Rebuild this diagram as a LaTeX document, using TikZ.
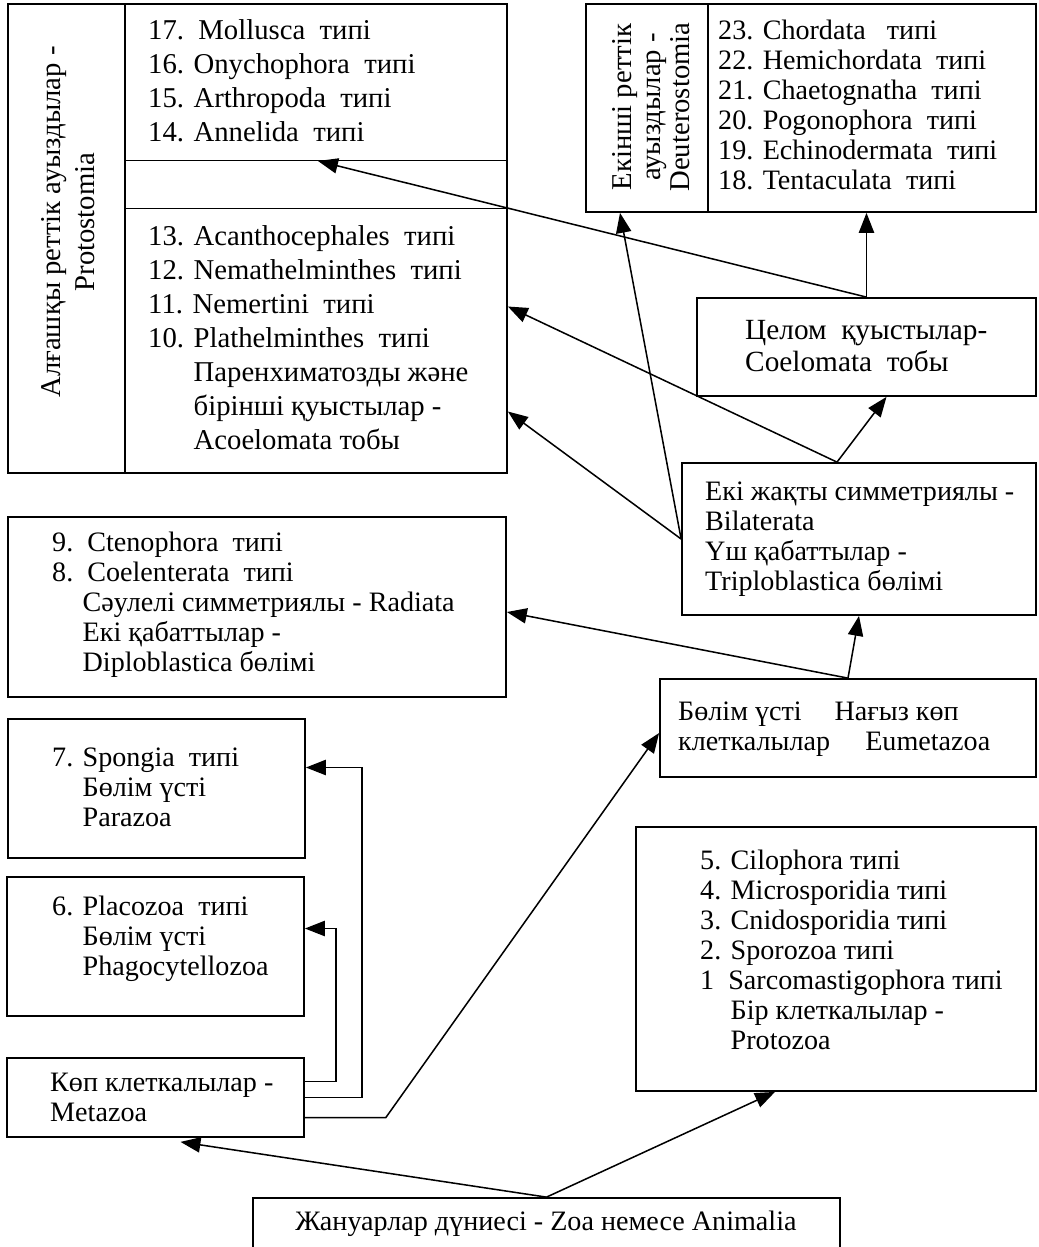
\documentclass[tikz,border=0pt]{standalone}
\usepackage{fontspec}
\setmainfont{Liberation Serif}
\usetikzlibrary{arrows.meta,fit,calc,positioning}

\tikzset{
  box/.style={draw, line width=1.5pt, inner sep=0pt},
  txt/.style={anchor=west, align=left, inner sep=0pt, font=\fontsize{24}{25.6}\selectfont},
  bigtxt/.style={txt, font=\fontsize{24.5}{29}\selectfont},
  sidetxt/.style={inner sep=0pt, rotate=90, anchor=center, align=center},
  arr/.style={-{Triangle[length=17pt,width=13pt]}, line width=1.3pt},
}
\newcommand{\ind}{\hspace*{26pt}}

\begin{document}
\begin{tikzpicture}[x=0.03cm,y=-0.03cm]
  \useasboundingbox (0,0) rectangle (1039,1247);
  % boxes
  \node[box, fit={(8,4) (507,473)}] (proto) {};
  \node[box, fit={(586,4) (1036,212)}] (deut) {};
  \node[box, fit={(697,298) (1036,396)}] (coel) {};
  \node[box, fit={(682,463) (1036,615)}] (bilat) {};
  \node[box, fit={(8,517) (506,697)}] (radiata) {};
  \node[box, fit={(660,679) (1036,777)}] (eumeta) {};
  \node[box, fit={(8,719) (305,858)}] (spongia) {};
  \node[box, fit={(7,877) (304,1016)}] (placo) {};
  \node[box, fit={(7,1058) (304,1137)}] (metazoa) {};
  \node[box, fit={(636,827) (1036,1091)}] (protozoa) {};
  \node[box, fit={(253,1198) (840,1262)}] (animalia) {};
  % dividers
  \draw[line width=1.5pt] (125,4) -- (125,473);
  \draw[line width=0.8pt] (125,160) -- (507,160);
  \draw[line width=0.8pt] (125,208) -- (507,208);
  \draw[line width=1.5pt] (708,4) -- (708,212);
  \coordinate (midtip) at (318,161);

  % texts
  \node[bigtxt, sidetxt] (protoname) at (68,222) {Алғашқы реттік ауыздылар -\\Protostomia};
  \node[bigtxt] (protoup) at (148,81) {17.\ \ Mollusca\ \ типі\\16. Onychophora\ \ типі\\15. Arthropoda\ \ типі\\14. Annelida\ \ типі};
  \node[bigtxt] (protolow) at (148,338) {13. Acanthocephales\ \ типі\\12. Nemathelminthes\ \ типі\\11. Nemertini\ \ типі\\10. Plathelminthes\ \ типі\\\phantom{10. }Паренхиматозды және\\\phantom{10. }бірінші қуыстылар -\\\phantom{10. }Acoelomata тобы};
  \node[txt, sidetxt, font=\fontsize{24.5}{25}\selectfont] (deutname) at (651,107) {Екінші реттік\\ауыздылар -\\Deuterostomia};
  \node[txt] (deutlist) at (718,105) {23. Chordata\ \ \ типі\\22. Hemichordata\ \ типі\\21. Chaetognatha\ \ типі\\20. Pogonophora\ \ типі\\19. Echinodermata\ \ типі\\18. Tentaculata\ \ типі};
  \node[txt, font=\fontsize{25}{28}\selectfont] (coeltxt) at (745,346) {Целом\ \ қуыстылар-\\Coelomata\ \ тобы};
  \node[txt] (bilattxt) at (705,539) {Екі жақты симметриялы -\\Bilaterata\\Үш қабаттылар -\\Triploblastica бөлімі};
  \node[txt] (radtxt) at (52,605) {9.\ \ Ctenophora\ \ типі\\8.\ \ Coelenterata\ \ типі\\\ind Сәулелі симметриялы - Radiata\\\ind Екі қабаттылар -\\\ind Diploblastica бөлімі};
  \node[txt] (eumtxt) at (678,729) {Бөлім үсті\hspace{28pt}Нағыз көп\\клеткалылар\hspace{30pt}Eumetazoa};
  \node[txt] (spongtxt) at (52,787) {7. Spongia\ \ типі\\\ind Бөлім үсті\\\ind Parazoa};
  \node[txt] (placotxt) at (52,939) {6. Placozoa\ \ типі\\\ind Бөлім үсті\\\ind Phagocytellozoa};
  \node[txt] (metatxt) at (50,1097) {Көп клеткалылар -\\Metazoa};
  \node[txt] (prototxt) at (700,950) {5. Cilophora типі\\4. Microsporidia типі\\3. Cnidosporidia типі\\2. Sporozoa типі\\1\ \ Sarcomastigophora типі\\\ind Бір клеткалылар -\\\ind Protozoa};
  \node[txt, anchor=center] (animtxt) at (546,1224) {Жануарлар дүниесі - Zoa немесе Animalia};

  % connectors
  \draw[arr] (animalia.north) -- ($(metazoa.south)+(25,4)$);
  \draw[arr] (animalia.north) -- ($(protozoa.south)+(-61,0)$);
  \draw[arr] ($(metazoa.east)+(0,20)$) -- ++(81,0) -- ($(eumeta.west)+(0,5)$);
  \draw[arr] (metazoa.east) -- ++(57,0) |- ($(spongia.east)+(0,-21)$);
  \draw[arr] ($(metazoa.east)+(0,-16)$) -- ++(31,0) |- ($(placo.east)+(0,-18)$);
  \draw[arr] (eumeta.north) -- (bilat.south);
  \draw[arr] (eumeta.north) -- ($(radiata.east)+(0,5)$);
  \draw[arr] ($(bilat.north)+(-22,0)$) -- ($(coel.south)+(20,0)$);
  \draw[arr] ($(bilat.north)+(-22,0)$) -- ($(proto.east)+(0,68)$);
  \draw[arr] (bilat.west) -- ($(proto.east)+(0,173)$);
  \draw[arr] (bilat.west) -- ($(deut.south)+(-191,0)$);
  \draw[arr] (coel.north) -- (coel.north |- deut.south);
  \draw[arr] (coel.north) -- (midtip);
\end{tikzpicture}
\end{document}
